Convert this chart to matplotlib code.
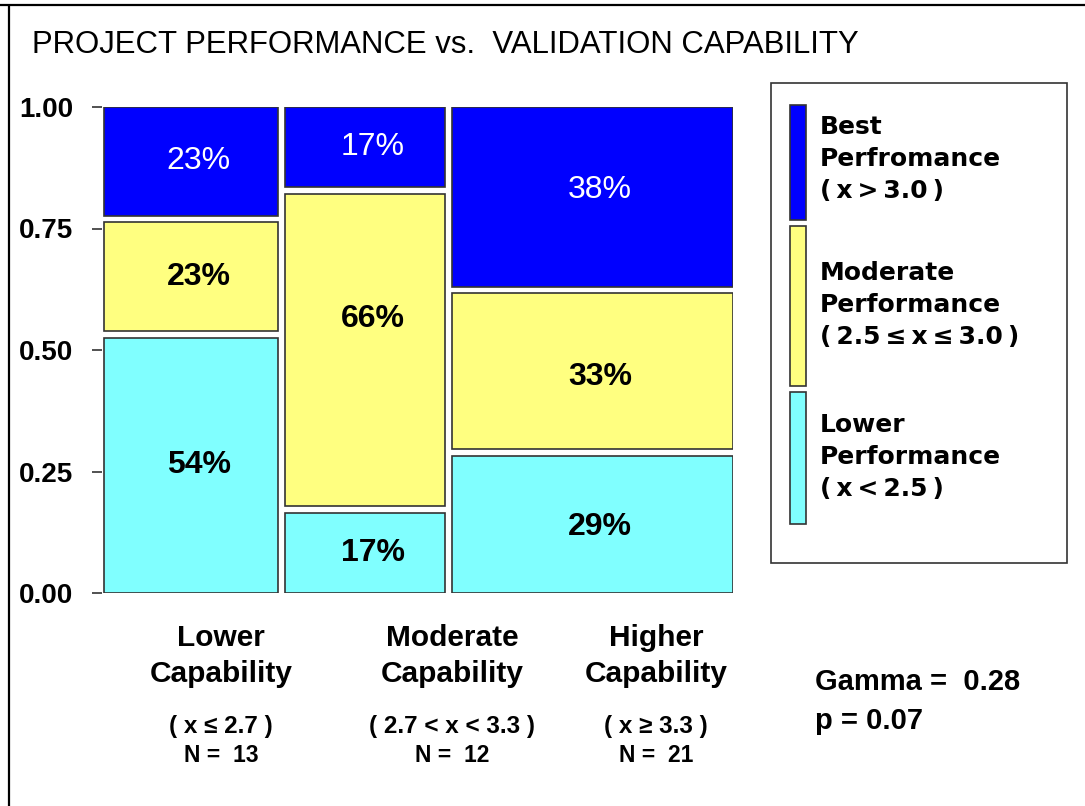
import matplotlib
matplotlib.use("Agg")
import matplotlib.pyplot as plt
from matplotlib.patches import Rectangle

# ---------------- data ----------------
title = "PROJECT PERFORMANCE vs.  VALIDATION CAPABILITY"
capability_names = [["Lower", "Capability"], ["Moderate", "Capability"], ["Higher", "Capability"]]
capability_ranges = ["( x ≤ 2.7 )", "( 2.7 < x < 3.3 )", "( x ≥ 3.3 )"]
group_n = [13, 12, 21]
# percentages per capability group, stacked bottom -> top
pct_lower = [54, 17, 29]
pct_moderate = [23, 66, 33]
pct_best = [23, 17, 38]
legend_labels = [["Best", "Perfromance", "(\u2009x\u2009>\u20093.0\u2009)"],
                 ["Moderate", "Performance", "(\u20092.5\u2009≤\u2009x\u2009≤\u20093.0\u2009)"],
                 ["Lower", "Performance", "(\u2009x\u2009<\u20092.5\u2009)"]]
yticks = [0.00, 0.25, 0.50, 0.75, 1.00]
gamma = 0.28
p_value = 0.07

# ---------------- style ----------------
W, H = 1085, 806
DPI = 100
C_BEST, C_MOD, C_LOW = "#0000FF", "#FFFF80", "#80FFFF"
EDGE = "#333333"
ARIAL = "Liberation Sans"

fig = plt.figure(figsize=(W / DPI, H / DPI), dpi=DPI)
fig.patch.set_facecolor("white")

def fx(px):
    return px / W

def fy(py):
    return 1 - py / H

# main axes (pixel frame: x 102..733, y 107..593)
ax_l, ax_r, ax_t, ax_b = 102, 733, 107, 593
ax = fig.add_axes([fx(ax_l), fy(ax_b), fx(ax_r - ax_l), (ax_b - ax_t) / H])
ax.set_xlim(-0.0036, 1.0)
ax.set_ylim(0, 1)
for s in ax.spines.values():
    s.set_visible(False)
ax.set_xticks([])
ax.set_yticks(yticks)
ax.set_yticklabels([f"{v:.2f}" for v in yticks], fontsize=20, family=ARIAL,
                   fontweight="bold")
ax.tick_params(axis="y", direction="out", length=7.2, width=1.1, color="#222222",
               pad=13.5)

hgap = 0.0105
vgap = 0.014
total_n = sum(group_n)
avail_w = 1 - hgap * (len(group_n) - 1)
series = [(pct_lower, C_LOW, "black", "bold"),
          (pct_moderate, C_MOD, "black", "bold"),
          (pct_best, C_BEST, "white", "normal")]
label_yfrac = [[0.5, 0.5, 0.5], [0.5, 0.6, 0.5], [0.48, 0.46, 0.54]]  # [group][level]

x0 = 0.0
for g, n in enumerate(group_n):
    w = avail_w * n / total_n
    col_total = sum(s[0][g] for s in series)
    avail_h = 1 - vgap * (len(series) - 1)
    y0 = 0.0
    for lvl, (vals, col, tcol, tw) in enumerate(series):
        h = avail_h * vals[g] / col_total
        ax.add_patch(Rectangle((x0, y0), w, h, facecolor=col, edgecolor=EDGE, linewidth=1.2))
        ax.text(x0 + w / 2 + 0.012, y0 + h * label_yfrac[g][lvl], f"{vals[g]}%",
                ha="center", va="center", fontsize=23, color=tcol, family=ARIAL,
                fontweight=tw)
        y0 += h + vgap
    x0 += w + hgap

# overlay axes in pixel coordinates for annotations
ov = fig.add_axes([0, 0, 1, 1], zorder=-1)
ov.set_xlim(0, W)
ov.set_ylim(H, 0)
ov.axis("off")

# figure border (top and left)
ov.plot([0, W], [4.5, 4.5], color="black", lw=1.6, solid_capstyle="butt")
ov.plot([8.5, 8.5], [4.5, H], color="black", lw=1.6, solid_capstyle="butt")

# title
ov.text(32, 53, title, fontsize=22.4, family=ARIAL, ha="left", va="baseline", color="black")

# category labels
label_cx = [221, 452, 656]
for cx, names, rng, n in zip(label_cx, capability_names, capability_ranges, group_n):
    ov.text(cx, 646, names[0], fontsize=21.5, family=ARIAL, fontweight="bold",
            ha="center", va="baseline")
    ov.text(cx, 681.5, names[1], fontsize=21.5, family=ARIAL, fontweight="bold",
            ha="center", va="baseline")
    ov.text(cx, 733, rng, fontsize=17.5, family=ARIAL, fontweight="bold",
            ha="center", va="baseline")
    ov.text(cx, 762, f"N = {n:>3}", fontsize=16.5, family=ARIAL, fontweight="bold",
            ha="center", va="baseline")

# legend
ov.add_patch(Rectangle((771, 83), 296, 480, facecolor="white", edgecolor=EDGE, lw=1.2))
bars = [(105, 220, C_BEST), (226, 386, C_MOD), (392, 524, C_LOW)]
for (t, b, c) in bars:
    ov.add_patch(Rectangle((790, t), 16, b - t, facecolor=c, edgecolor=EDGE, lw=1.2))
block_base = [134, 280, 432]
for base, lines in zip(block_base, legend_labels):
    for i, line in enumerate(lines):
        ov.text(820, base + i * 32, line, fontsize=18, family="DejaVu Sans",
                fontweight="bold", ha="left", va="baseline")

# statistics
ov.text(815, 690, f"Gamma =  {gamma:.2f}", fontsize=21, family=ARIAL, fontweight="bold",
        ha="left", va="baseline")
ov.text(815, 729, f"p = {p_value:.2f}", fontsize=21, family=ARIAL, fontweight="bold",
        ha="left", va="baseline")

fig.savefig("out.png", dpi=DPI)
